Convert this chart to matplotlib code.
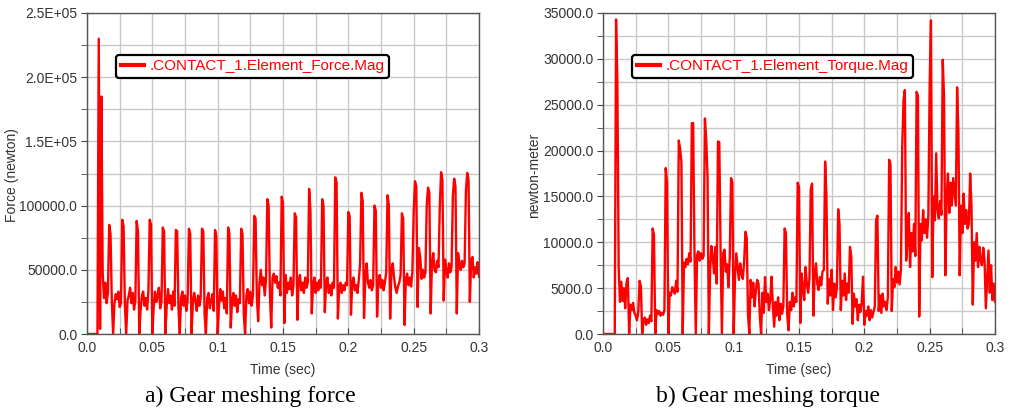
import numpy as np
import matplotlib
matplotlib.use("Agg")
import matplotlib.pyplot as plt
from matplotlib.ticker import MultipleLocator

# Sample time in seconds (1 ms step)
time_s = np.round(np.arange(0, 301) * 0.001, 3)

# Contact force magnitude (newton), one row per 10 ms
force_n = [
    0, 0, 0, 0, 0, 0, 0, 0, 0, 230000,
    4000, 185000, 48000, 28000, 40000, 24000, 32000, 85000, 78000, 25000,
    0, 24000, 31000, 27000, 33000, 21000, 24000, 89000, 84000, 22000,
    0, 26000, 30000, 36000, 24000, 32000, 19000, 26000, 88000, 80000,
    0, 18000, 30000, 33000, 22000, 28000, 19000, 34000, 89000, 85000,
    0, 20000, 33000, 25000, 30000, 36000, 20000, 25000, 83000, 80000,
    0, 22000, 35000, 24000, 30000, 19000, 33000, 22000, 81000, 80000,
    20000, 0, 28000, 33000, 22000, 30000, 18000, 26000, 82000, 78000,
    0, 24000, 32000, 26000, 18000, 30000, 22000, 28000, 82000, 80000,
    15000, 0, 28000, 32000, 20000, 26000, 31000, 18000, 81000, 76000,
    0, 22000, 35000, 26000, 33000, 20000, 28000, 16000, 83000, 78000,
    5000, 25000, 32000, 22000, 30000, 17000, 27000, 24000, 82000, 78000,
    15000, 0, 30000, 35000, 24000, 33000, 22000, 30000, 92000, 90000,
    28000, 10000, 40000, 50000, 38000, 44000, 30000, 42000, 105000, 100000,
    30000, 5000, 44000, 47000, 40000, 45000, 36000, 40000, 30000, 107000,
    102000, 8500, 46000, 32000, 40000, 35000, 44000, 30000, 38000, 94000,
    91000, 11000, 42000, 46000, 34000, 40000, 32000, 44000, 36000, 40000,
    113000, 96000, 16000, 38000, 44000, 32000, 40000, 34000, 42000, 36000,
    105000, 100000, 17000, 40000, 44000, 32000, 38000, 30000, 40000, 36000,
    122000, 118000, 12000, 36000, 40000, 32000, 38000, 34000, 40000, 38000,
    95000, 92000, 15000, 40000, 44000, 34000, 38000, 32000, 42000, 55000,
    110000, 104000, 12500, 44000, 55000, 40000, 36000, 42000, 34000, 38000,
    100000, 96000, 13500, 40000, 46000, 36000, 42000, 34000, 40000, 48000,
    108000, 100000, 12000, 50000, 55000, 44000, 36000, 32000, 37000, 40000,
    46000, 94000, 90000, 7000, 42000, 47000, 38000, 44000, 37000, 48000,
    95000, 119000, 115000, 21000, 67000, 60000, 43000, 50000, 44000, 48000,
    100000, 114000, 110000, 16000, 55000, 63000, 50000, 48000, 57000, 52000,
    100000, 126000, 120000, 26000, 58000, 50000, 44000, 55000, 48000, 52000,
    108000, 121000, 115000, 16000, 63000, 55000, 50000, 57000, 52000, 55000,
    112000, 125500, 120000, 25000, 57000, 60000, 44000, 52000, 47000, 56000,
    44600,
]

# Contact torque magnitude (newton-meter), one row per 10 ms
torque_nm = [
    0, 0, 0, 0, 0, 0, 0, 0, 0, 0,
    34300, 27400, 7200, 3500, 5700, 3600, 5000, 2800, 5600, 6100,
    0, 3200, 2600, 3400, 2300, 2000, 1500, 2400, 5800, 5200,
    0, 1400, 1800, 1000, 1600, 1200, 2000, 1400, 11500, 10800,
    0, 2600, 2200, 2500, 2000, 2300, 2100, 2600, 18100, 16500,
    0, 4500, 4200, 5100, 4700, 4400, 5800, 4600, 21100, 20200,
    18800, 0, 7800, 7300, 8200, 7600, 8800, 7900, 23000, 23000,
    9000, 0, 8600, 9000, 8000, 8800, 8200, 8500, 23500, 21200,
    17200, 0, 7000, 9600, 8400, 6600, 9500, 5500, 21000, 20900,
    9000, 0, 8800, 9200, 6800, 7600, 5100, 8400, 17000, 16500,
    0, 6000, 8800, 7300, 5900, 7700, 6600, 6000, 7800, 11150,
    10500, 2000, 0, 5900, 4000, 5600, 3000, 4800, 5900, 5500,
    2000, 0, 4500, 2300, 6200, 3500, 4400, 2600, 3800, 6250,
    3000, 800, 3500, 2000, 4000, 1500, 3300, 2200, 3000, 11500,
    11000, 2000, 400, 3500, 2600, 4500, 3000, 4000, 3500, 16500,
    16000, 1200, 6600, 5000, 3700, 7300, 5500, 4500, 6000, 15800,
    16400, 2000, 6500, 7700, 5500, 4800, 6200, 5300, 6800, 7000,
    18800, 15000, 3300, 6000, 4200, 7000, 2600, 5500, 4000, 5000,
    13600, 12000, 2600, 5800, 4200, 6600, 3700, 5500, 4500, 9500,
    8500, 1100, 4400, 3000, 3800, 1500, 3200, 2400, 3500, 6250,
    1000, 2500, 2000, 3000, 1500, 2600, 1800, 2400, 3000, 12400,
    12900, 2500, 4200, 2300, 4400, 3000, 3500, 2600, 4000, 19000,
    18500, 2500, 6000, 5100, 7300, 5600, 6800, 5400, 7000, 20400,
    25500, 26600, 8000, 10000, 13200, 7300, 11000, 9000, 12000, 8500,
    26400, 26000, 1900, 12000, 10200, 13500, 11000, 12500, 10500, 13000,
    27300, 34200, 6200, 15000, 12400, 19700, 13500, 12600, 14500, 13000,
    29900, 25900, 6400, 15000, 17500, 13200, 16500, 14000, 17000, 15500,
    14000, 26900, 22000, 6400, 14000, 11000, 15300, 12000, 13500, 11500,
    12000, 17500, 14000, 3200, 10000, 8000, 11000, 7300, 9500, 8000,
    7500, 9400, 8000, 2800, 6000, 9100, 4500, 7500, 3700, 5500,
    3500,
]

x_ticks = [0.0, 0.05, 0.1, 0.15, 0.2, 0.25, 0.3]
x_tick_labels = ["0.0", "0.05", "0.1", "0.15", "0.2", "0.25", "0.3"]
force_ticks = [0, 50000, 100000, 150000, 200000, 250000]
force_tick_labels = ["0.0", "50000.0", "100000.0", "1.5E+05", "2.0E+05", "2.5E+05"]
torque_ticks = [0, 5000, 10000, 15000, 20000, 25000, 30000, 35000]
torque_tick_labels = ["0.0", "5000.0", "10000.0", "15000.0", "20000.0",
                      "25000.0", "30000.0", "35000.0"]

plt.rcParams["font.family"] = ["Liberation Sans", "DejaVu Sans"]

W, H = 1014, 409
fig = plt.figure(figsize=(W / 100, H / 100), dpi=100)

TXT = "#333333"
GRID = "#c8c8c8"


def panel(left_px, y, yticks, ylabels, ymax, yminor, legend_label, ylabel, ylabel_x):
    ax = fig.add_axes([left_px / W, 1 - 334 / H, 392 / W, 321 / H])
    ax.plot(time_s, y, color="#ff0000", lw=1.7, label=legend_label)
    ax.set_xlim(0, 0.3)
    ax.set_ylim(0, ymax)
    ax.set_xticks(x_ticks)
    ax.set_xticklabels(x_tick_labels)
    ax.set_yticks(yticks)
    ax.set_yticklabels(ylabels)
    ax.xaxis.set_minor_locator(MultipleLocator(0.025))
    ax.yaxis.set_minor_locator(MultipleLocator(yminor))
    ax.grid(True, which="both", color=GRID, lw=1.0)
    ax.set_axisbelow(True)
    ax.tick_params(axis="both", which="both", labelsize=10, colors="#444444",
                   labelcolor=TXT)
    ax.tick_params(axis="x", which="both", direction="in", length=4, pad=5)
    ax.tick_params(axis="y", which="both", direction="out", length=4, pad=3)
    for s in ax.spines.values():
        s.set_color("#555555")
        s.set_linewidth(1.0)
    leg = ax.legend(loc="upper left", bbox_to_anchor=(0.075, 0.87),
                    borderaxespad=0, fontsize=11, handlelength=1.5,
                    handletextpad=0.35, borderpad=0.3, fancybox=True,
                    framealpha=1, edgecolor="black")
    leg.get_frame().set_linewidth(1.6)
    for line in leg.get_lines():
        line.set_linewidth(3)
    for t in leg.get_texts():
        t.set_color("#ff0000")
    fig.text((left_px + 196) / W, 1 - 370 / H, "Time (sec)", ha="center",
             va="center", fontsize=10, color=TXT)
    fig.text(ylabel_x / W, 1 - 175 / H, ylabel, rotation=90, ha="center",
             va="center", fontsize=10, color=TXT)
    return ax


panel(87, force_n, force_ticks, force_tick_labels, 250000, 25000,
      ".CONTACT_1.Element_Force.Mag", "Force (newton)", 12)
panel(603, torque_nm, torque_ticks, torque_tick_labels, 35000, 2500,
      ".CONTACT_1.Element_Torque.Mag", "newton-meter", 534)

fig.text(250 / W, 1 - 396 / H, "a) Gear meshing force", ha="center",
         va="center", fontsize=17, family=["Liberation Serif", "DejaVu Serif"])
fig.text(768 / W, 1 - 396 / H, "b) Gear meshing torque", ha="center",
         va="center", fontsize=17, family=["Liberation Serif", "DejaVu Serif"])

fig.savefig("out.png", dpi=100)
